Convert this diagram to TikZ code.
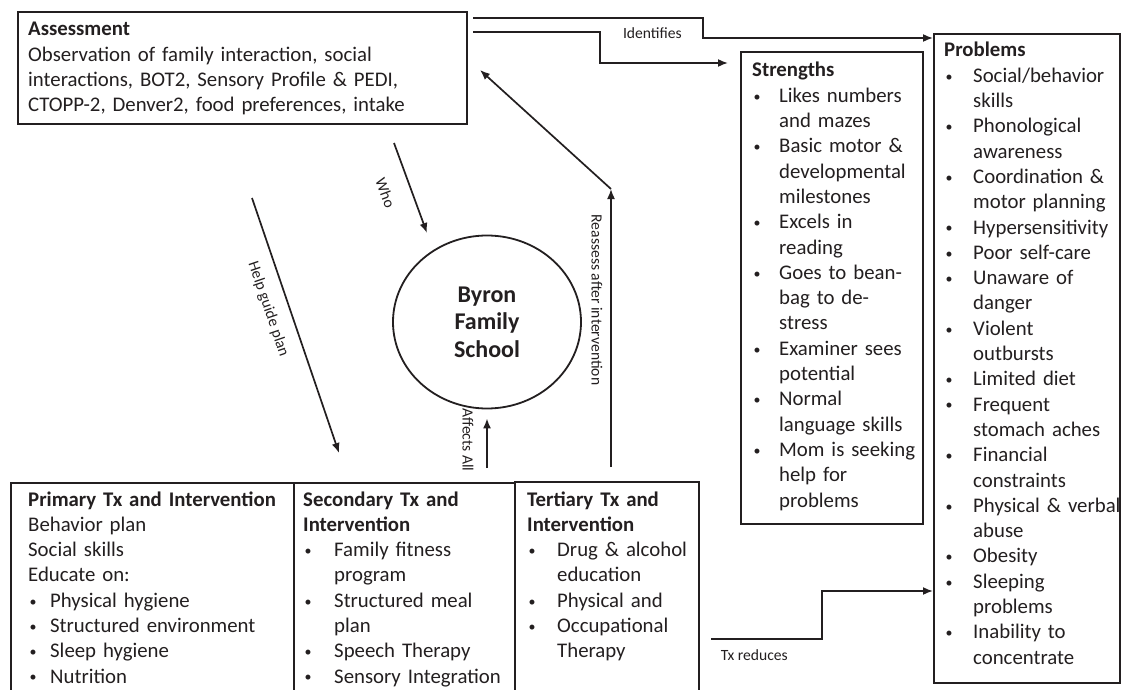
\documentclass[tikz,border=0pt]{standalone}
\usepackage{fontspec}
\setmainfont{Carlito}
\usetikzlibrary{arrows.meta,shapes.geometric}

\definecolor{ink}{HTML}{231F20}

% bullet lists inside the boxes
\newlength\bulind
\newcommand{\bul}{\makebox[\bulind][l]{\hspace{1.5pt}\raisebox{1.2pt}{\fontsize{14}{14}\selectfont\textbullet}}}
\newcommand{\cont}{\hspace*{\bulind}}

\tikzset{
  box/.style={draw=ink, line width=1.8pt, anchor=north west, inner sep=0pt},
  txt/.style={anchor=base west, inner sep=0pt, align=left, text=ink,
    font=\fontsize{20.8}{25.3}\selectfont,
    execute at begin node={\global\bulind=#1\relax}},
  txt/.default=27pt,
  lbl/.style={inner sep=0pt, text=ink, font=\fontsize{15.6}{18}\selectfont},
  conn/.style={draw=ink, line width=1.7pt, -{Latex[length=10pt,width=8pt]}},
}

\begin{document}
\begin{tikzpicture}[x=1pt,y=-1pt]
  \useasboundingbox[fill=white] (0,0) rectangle (1122,690);
  \clip (0,0) rectangle (1122,690);

  % assessment
  \node[box, minimum width=449pt, minimum height=112pt] (assess) at (17,11) {};
  \node[txt=0pt, text width=436pt] (assess-txt) at ([shift={(11,25)}]assess.north west)
    {\textbf{Assessment}\\
     Observation of family interaction, social\\
     interactions, BOT2, Sensory Profile \& PEDI,\\
     CTOPP-2, Denver2, food preferences, intake};

  % strengths
  \node[box, minimum width=182pt, minimum height=472pt] (str) at (740,51) {};
  \node[txt=27pt, text width=168pt] (str-txt) at ([shift={(12,26)}]str.north west)
    {\textbf{Strengths}\\
     \bul Likes numbers\\ \cont and mazes\\
     \bul Basic motor \&\\ \cont developmental\\ \cont milestones\\
     \bul Excels in\\ \cont reading\\
     \bul Goes to bean-\\ \cont bag to de-\\ \cont stress\\
     \bul Examiner sees\\ \cont potential\\
     \bul Normal\\ \cont language skills\\
     \bul Mom is seeking\\ \cont help for\\ \cont problems};

  % problems
  \node[box, minimum width=186pt, minimum height=649pt] (prob) at (933,33) {};
  \node[txt=29pt, text width=178pt] (prob-txt) at ([shift={(11,24)}]prob.north west)
    {\textbf{Problems}\\
     \bul Social/behavior\\ \cont skills\\
     \bul Phonological\\ \cont awareness\\
     \bul Coordination \&\\ \cont motor planning\\
     \bul Hypersensitivity\\
     \bul Poor self-care\\
     \bul Unaware of\\ \cont danger\\
     \bul Violent\\ \cont outbursts\\
     \bul Limited diet\\
     \bul Frequent\\ \cont stomach aches\\
     \bul Financial\\ \cont constraints\\
     \bul Physical \& verbal\\ \cont abuse\\
     \bul Obesity\\
     \bul Sleeping\\ \cont problems\\
     \bul Inability to\\ \cont concentrate};

  % treatment levels
  \node[box, minimum width=283pt, minimum height=240pt] (prim) at (10,482) {};
  \node[txt=22pt, text width=262pt] (prim-txt) at ([shift={(18,24)}]prim.north west)
    {\textbf{Primary Tx and Intervention}\\
     Behavior plan\\
     Social skills\\
     Educate on:\\
     \bul Physical hygiene\\
     \bul Structured environment\\
     \bul Sleep hygiene\\
     \bul Nutrition};

  \node[box, minimum width=221pt, minimum height=240pt] (sec) at (293,482) {};
  \node[txt=31pt, text width=208pt] (sec-txt) at ([shift={(10,24)}]sec.north west)
    {\textbf{Secondary Tx and}\\
     \textbf{Intervention}\\
     \bul Family fitness\\ \cont program\\
     \bul Structured meal\\ \cont plan\\
     \bul Speech Therapy\\
     \bul Sensory Integration};

  \node[box, minimum width=184pt, minimum height=240pt] (ter) at (514,481) {};
  \node[txt=30pt, text width=168pt] (ter-txt) at ([shift={(13,25)}]ter.north west)
    {\textbf{Tertiary Tx and}\\
     \textbf{Intervention}\\
     \bul Drug \& alcohol\\ \cont education\\
     \bul Physical and\\
     \bul Occupational\\ \cont Therapy};

  % family
  \node[ellipse, draw=ink, line width=1.8pt, minimum width=188pt, minimum height=173pt,
    align=center, text=ink, font=\fontsize{24}{27.5}\selectfont\bfseries] (byron) at (487,322)
    {Byron\\Family\\School};

  % connectors
  \coordinate (id1) at (473,18);
  \coordinate (id2) at (473,32);
  \draw[conn] (id1) -- node[lbl, below=9pt, pos=.78] (ident) {Identifies} (703,18)
    |- ([shift={(0,5)}]prob.north west);
  \draw[conn, shorten >=12pt] (id2) -- (600,32) |- ([shift={(0,12)}]str.north west);

  \coordinate (who-a) at (394,143);
  \coordinate (who-b) at (427,233);
  \draw[conn] (who-a) -- node[lbl, sloped, below=19pt, pos=.46] (who) {Who} (who-b);

  \coordinate (help-a) at (252,198);
  \coordinate (help-b) at (339,453);
  \draw[conn] (help-a) -- node[lbl, sloped, below=13pt, pos=.41] (help) {Help guide plan} (help-b);

  \draw[conn, shorten >=9pt] ([shift={(194,-14)}]sec.north west) -- (byron.south);
  \node[lbl, rotate=-90] (affects) at (468,440) {Affects All};

  \coordinate (reas-a) at (611,467);
  \coordinate (reas-b) at (611,189);
  \coordinate (reas-c) at (480,70);
  \draw[conn] (reas-a) -- (reas-b);
  \draw[conn] (reas-b) -- (reas-c);
  \node[lbl, rotate=-90] (reassess) at (597,300) {Reassess after intervention};

  \coordinate (tx-a) at (711,639);
  \draw[conn] (tx-a) -- node[lbl, below=10pt, pos=.39] (txred) {Tx reduces} (822,639)
    |- ([shift={(0,558)}]prob.north west);
\end{tikzpicture}
\end{document}
